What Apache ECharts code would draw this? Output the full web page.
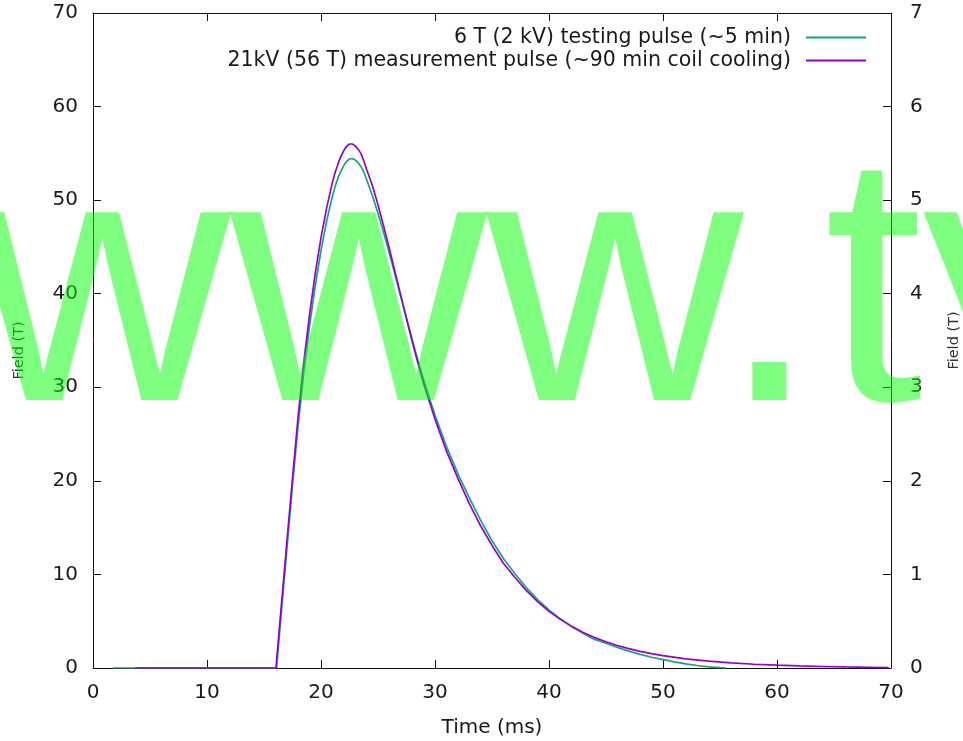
<!DOCTYPE html>
<html>
<head>
<meta charset="utf-8">
<title>Pulsed field profile</title>
<script src="https://cdn.jsdelivr.net/npm/echarts@6/dist/echarts.min.js"></script>
<style>
  html, body { margin: 0; padding: 0; background: #ffffff; }
  #chart { width: 963px; height: 741px; }
</style>
</head>
<body>
<div id="chart"></div>
<script>
// 6 T (2 kV) testing pulse, plotted on the right axis (0-7)
const testTime = [1.75, 4, 8, 12, 16.1, 16.5, 17, 17.5, 18, 18.5, 19, 19.5, 20, 20.5, 21, 21.25, 21.5, 21.75, 22, 22.25, 22.5, 22.75, 23, 23.25, 23.5, 23.75, 24, 24.5, 25, 25.5, 26, 26.5, 27, 27.5, 28, 28.5, 29, 30, 31, 32, 33, 34, 35, 36, 37, 38, 39, 40, 41, 42, 43, 44, 45, 46, 47, 48, 49, 50, 51, 52, 53, 54, 55, 55.5];
const testField = [0, 0, 0, 0, 0, 0.56, 1.26, 1.95, 2.60, 3.17, 3.66, 4.09, 4.46, 4.78, 5.04, 5.15, 5.24, 5.31, 5.37, 5.415, 5.44, 5.445, 5.43, 5.40, 5.36, 5.30, 5.22, 5.05, 4.86, 4.65, 4.43, 4.20, 3.97, 3.74, 3.51, 3.29, 3.08, 2.70, 2.37, 2.08, 1.82, 1.58, 1.36, 1.17, 1.01, 0.86, 0.73, 0.62, 0.525, 0.44, 0.37, 0.305, 0.265, 0.22, 0.18, 0.145, 0.115, 0.09, 0.065, 0.045, 0.027, 0.013, 0.003, 0];

// 21 kV (56 T) measurement pulse, plotted on the left axis (0-70)
const measTime = [3.7, 8, 12, 16.05, 16.5, 17, 17.5, 18, 18.5, 19, 19.5, 20, 20.5, 21, 21.25, 21.5, 21.75, 22, 22.25, 22.5, 22.75, 23, 23.25, 23.5, 23.75, 24, 24.5, 25, 25.5, 26, 26.5, 27, 27.5, 28, 28.5, 29, 30, 31, 32, 33, 34, 35, 36, 37, 38, 39, 40, 41, 42, 43, 44, 45, 46, 47, 48, 49, 50, 52, 54, 56, 58, 60, 62, 64, 66, 68, 69.8];
const measField = [0, 0, 0, 0, 6.4, 13.4, 20.3, 27.0, 32.8, 37.8, 42.2, 46.0, 49.2, 51.9, 53.0, 53.9, 54.7, 55.3, 55.75, 56.0, 56.0, 55.8, 55.45, 55.0, 54.2, 53.3, 51.6, 49.5, 47.2, 44.8, 42.3, 39.8, 37.3, 34.9, 32.6, 30.4, 26.6, 23.2, 20.3, 17.6, 15.2, 13.1, 11.2, 9.7, 8.3, 7.1, 6.05, 5.2, 4.45, 3.8, 3.25, 2.8, 2.4, 2.07, 1.78, 1.53, 1.32, 0.98, 0.73, 0.54, 0.40, 0.30, 0.22, 0.16, 0.11, 0.07, 0.04];

// Axis ticks
const timeTicks = { min: 0, max: 70, interval: 10 };
const leftTicks = { min: 0, max: 70, interval: 10 };
const rightTicks = { min: 0, max: 7, interval: 1 };

const seriesNames = [
  '6 T (2 kV) testing pulse (~5 min)',
  '21kV (56 T) measurement pulse (~90 min coil cooling)'
];

const FONT = 'DejaVu Sans';
const INK = '#1a1a1a';
const BORDER = '#111111';
const GREEN = '#16a47c';
const VIOLET = '#9400d3';

const pairs = (xs, ys) => xs.map((x, i) => [x, ys[i]]);

const chart = echarts.init(document.getElementById('chart'), null, { renderer: 'canvas' });

const tickIn = { show: true, inside: true, length: 8, lineStyle: { color: BORDER, width: 1 } };
const lineOf = { show: true, onZero: false, lineStyle: { color: BORDER, width: 1 } };

// translucent site stamp across the middle of the figure
const waterFont = 'normal 355px "Liberation Sans"';
const waterFill = 'rgba(0,255,0,0.5)';
const waterY = 302;

chart.setOption({
  animation: false,
  backgroundColor: '#ffffff',
  textStyle: { fontFamily: FONT },
  grid: { left: 93, right: 72, top: 13, bottom: 73, containLabel: false, outerBoundsMode: 'none' },
  legend: {
    orient: 'vertical',
    align: 'right',
    right: 97,
    top: 27,
    padding: 0,
    itemWidth: 60,
    itemHeight: 20,
    itemGap: 2,
    icon: 'path://M0,9 L60,9 L60,11 L0,11 Z',
    textStyle: { fontFamily: FONT, fontSize: 20.5, color: INK, padding: [0, 10, 0, 0] },
    data: seriesNames
  },
  xAxis: [
    {
      type: 'value', position: 'bottom',
      min: timeTicks.min, max: timeTicks.max, interval: timeTicks.interval,
      axisLine: lineOf, axisTick: tickIn, splitLine: { show: false },
      axisLabel: { margin: 15, fontSize: 20, color: INK, fontFamily: FONT },
      name: 'Time (ms)', nameLocation: 'middle', nameGap: 50,
      nameTextStyle: { fontSize: 20, color: INK, fontFamily: FONT }
    },
    {
      type: 'value', position: 'top',
      min: timeTicks.min, max: timeTicks.max, interval: timeTicks.interval,
      axisLine: lineOf, axisTick: tickIn, splitLine: { show: false },
      axisLabel: { show: false }
    }
  ],
  yAxis: [
    {
      type: 'value', position: 'left',
      min: leftTicks.min, max: leftTicks.max, interval: leftTicks.interval,
      axisLine: lineOf, axisTick: tickIn, splitLine: { show: false },
      axisLabel: { margin: 15, fontSize: 20, color: INK, fontFamily: FONT },
      name: 'Field (T)', nameLocation: 'middle', nameGap: 66,
      nameTextStyle: { fontSize: 14.5, color: '#333', fontFamily: FONT, padding: [0, 20, 0, 0] }
    },
    {
      type: 'value', position: 'right',
      min: rightTicks.min, max: rightTicks.max, interval: rightTicks.interval,
      axisLine: lineOf, axisTick: tickIn, splitLine: { show: false },
      axisLabel: { margin: 19, fontSize: 20, color: INK, fontFamily: FONT },
      name: 'Field (T)', nameLocation: 'middle', nameGap: 56,
      nameTextStyle: { fontSize: 14.5, color: '#333', fontFamily: FONT }
    }
  ],
  series: [
    {
      name: seriesNames[0], type: 'line', xAxisIndex: 0, yAxisIndex: 1,
      data: pairs(testTime, testField),
      symbol: 'none', smooth: false,
      lineStyle: { color: GREEN, width: 1.7 },
      itemStyle: { color: GREEN }
    },
    {
      name: seriesNames[1], type: 'line', xAxisIndex: 0, yAxisIndex: 0,
      data: pairs(measTime, measField),
      symbol: 'none', smooth: false,
      lineStyle: { color: VIOLET, width: 1.7 },
      itemStyle: { color: VIOLET }
    }
  ],
  graphic: [
    { type: 'text', x: -26, y: waterY, z: 100, silent: true,
      style: { text: 'www', font: waterFont, fill: waterFill, align: 'left', verticalAlign: 'middle' } },
    { type: 'text', x: 720, y: waterY, z: 100, silent: true,
      style: { text: '.', font: waterFont, fill: waterFill, align: 'left', verticalAlign: 'middle' } },
    { type: 'text', x: 824, y: waterY, z: 100, silent: true,
      style: { text: 'ty', font: waterFont, fill: waterFill, align: 'left', verticalAlign: 'middle' } },
    // stamp band ends at its baseline: hide the descender tail
    { type: 'rect', z: 101, silent: true,
      shape: { x: 925, y: 399, width: 45, height: 85 },
      style: { fill: '#ffffff' } }
  ]
});
</script>
</body>
</html>
